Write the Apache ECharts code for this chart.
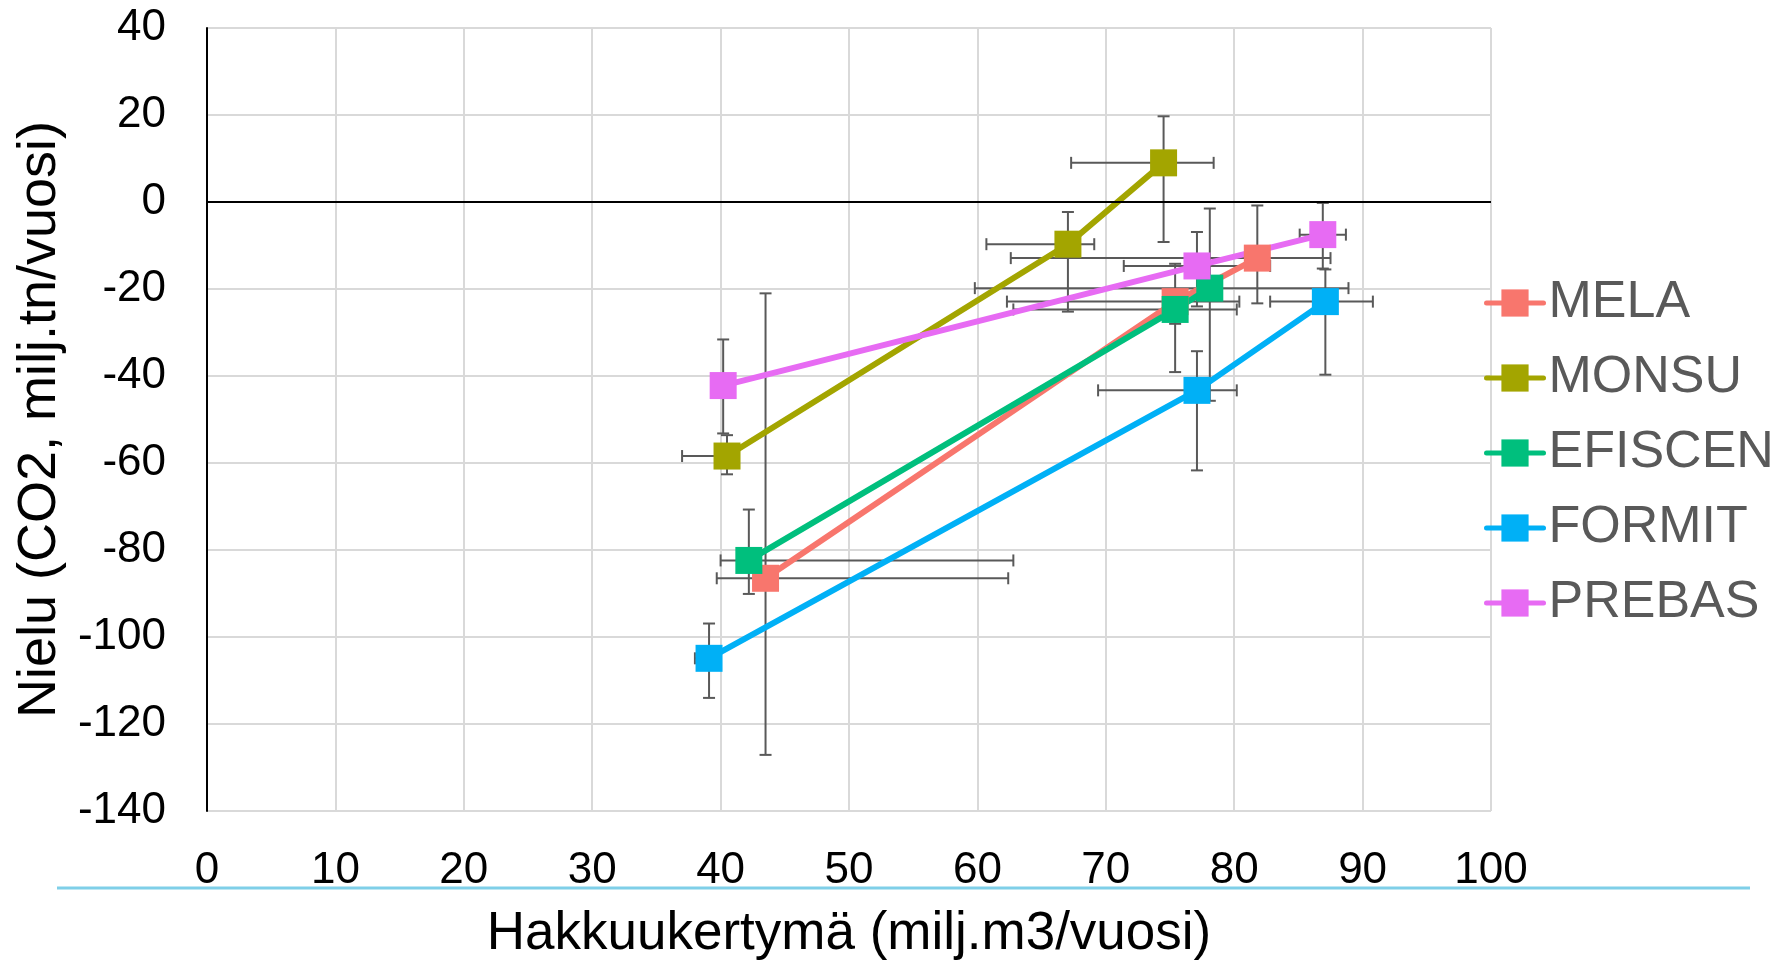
<!DOCTYPE html>
<html>
<head>
<meta charset="utf-8">
<script src="https://cdn.jsdelivr.net/npm/echarts@6/dist/echarts.min.js"></script>
<style>
html,body{margin:0;padding:0;background:#fff;}
#chart{width:1787px;height:966px;}
</style>
</head>
<body>
<div id="chart"></div>
<script>
// ---- Data ----
const seriesNames = ['MELA', 'MONSU', 'EFISCEN', 'FORMIT', 'PREBAS'];
const seriesColors = ['#F8766D', '#A3A500', '#00BF7D', '#00B0F6', '#E76BF3'];

// Hakkuukertymä (x) and Nielu (y) for each model, with error bar ends
const melaX = [43.5, 75.4, 81.8];
const melaY = [-86.5, -22.9, -12.9];
const melaXLow = [39.7, 62.3, 62.6];
const melaXHigh = [62.4, 80.4, 87.5];
const melaYLow = [-127.1, -39.1, -23.3];
const melaYHigh = [-21.0, -14.2, -0.8];

const monsuX = [40.5, 67.05, 74.5];
const monsuY = [-58.4, -9.7, 9.0];
const monsuXLow = [37.0, 60.7, 67.3];
const monsuXHigh = [41.0, 69.1, 78.4];
const monsuYLow = [-62.6, -25.2, -9.2];
const monsuYHigh = [-53.6, -2.3, 19.7];

const efiscenX = [42.2, 75.4, 78.1];
const efiscenY = [-82.4, -24.7, -19.8];
const efiscenXLow = [40.0, 62.8, 59.8];
const efiscenXHigh = [62.8, 80.2, 88.9];
const efiscenYLow = [-90.1, -28.0, -45.7];
const efiscenYHigh = [-70.7, -21.4, -1.5];

const formitX = [39.1, 77.1, 87.1];
const formitY = [-104.9, -43.3, -22.9];
const formitXLow = [38.0, 69.4, 82.8];
const formitXHigh = [40.0, 80.2, 90.8];
const formitYLow = [-114.0, -61.7, -39.7];
const formitYHigh = [-96.9, -34.3, -15.5];

const prebasX = [40.2, 77.1, 86.9];
const prebasY = [-42.2, -14.7, -7.5];
const prebasXLow = [40.0, 71.4, 85.1];
const prebasXHigh = [40.4, 82.8, 88.7];
const prebasYLow = [-53.2, -24.0, -15.3];
const prebasYHigh = [-31.6, -6.9, -0.2];

const xTicks = [0, 10, 20, 30, 40, 50, 60, 70, 80, 90, 100];
const yTicks = [-140, -120, -100, -80, -60, -40, -20, 0, 20, 40];

const xTitle = 'Hakkuukertymä (milj.m3/vuosi)';
const yTitle = 'Nielu (CO2, milj.tn/vuosi)';

// ---- Build ----
const allData = [
  [melaX, melaY, melaXLow, melaXHigh, melaYLow, melaYHigh],
  [monsuX, monsuY, monsuXLow, monsuXHigh, monsuYLow, monsuYHigh],
  [efiscenX, efiscenY, efiscenXLow, efiscenXHigh, efiscenYLow, efiscenYHigh],
  [formitX, formitY, formitXLow, formitXHigh, formitYLow, formitYHigh],
  [prebasX, prebasY, prebasXLow, prebasXHigh, prebasYLow, prebasYHigh]
];

const FONT = '"Liberation Sans", Arial, sans-serif';
const errRows = [];
allData.forEach(d => {
  for (let i = 0; i < d[0].length; i++) {
    errRows.push([d[0][i], d[1][i], d[2][i], d[3][i], d[4][i], d[5][i]]);
  }
});

const CAP = 6;
function renderErr(params, api) {
  const x = api.value(0), y = api.value(1);
  const xl = api.value(2), xh = api.value(3), yl = api.value(4), yh = api.value(5);
  const style = { stroke: '#595959', lineWidth: 2 };
  const children = [];
  const pL = api.coord([xl, y]), pR = api.coord([xh, y]);
  if (Math.abs(pR[0] - pL[0]) > 1) {
    children.push({ type: 'line', shape: { x1: pL[0], y1: pL[1], x2: pR[0], y2: pR[1] }, style });
    children.push({ type: 'line', shape: { x1: pL[0], y1: pL[1] - CAP, x2: pL[0], y2: pL[1] + CAP }, style });
    children.push({ type: 'line', shape: { x1: pR[0], y1: pR[1] - CAP, x2: pR[0], y2: pR[1] + CAP }, style });
  }
  const pB = api.coord([x, yl]), pT = api.coord([x, yh]);
  if (Math.abs(pB[1] - pT[1]) > 1) {
    children.push({ type: 'line', shape: { x1: pB[0], y1: pB[1], x2: pT[0], y2: pT[1] }, style });
    children.push({ type: 'line', shape: { x1: pB[0] - CAP, y1: pB[1], x2: pB[0] + CAP, y2: pB[1] }, style });
    children.push({ type: 'line', shape: { x1: pT[0] - CAP, y1: pT[1], x2: pT[0] + CAP, y2: pT[1] }, style });
  }
  return { type: 'group', children };
}

const series = [{
  type: 'custom',
  name: 'errorbars',
  renderItem: renderErr,
  data: errRows,
  z: 1,
  silent: true,
  encode: { x: 0, y: 1 },
  markLine: {
    silent: true,
    symbol: ['none', 'none'],
    label: { show: false },
    lineStyle: { color: '#000', width: 2, type: 'solid' },
    data: [{ yAxis: 0 }]
  }
}];

seriesNames.forEach((name, k) => {
  const d = allData[k];
  series.push({
    type: 'line',
    name: name,
    data: d[0].map((x, i) => [x, d[1][i]]),
    symbol: 'rect',
    symbolSize: 27,
    showSymbol: true,
    z: 3,
    itemStyle: { color: seriesColors[k] },
    lineStyle: { color: seriesColors[k], width: 6 },
    emphasis: { disabled: true }
  });
});

const chart = echarts.init(document.getElementById('chart'), null, { renderer: 'canvas' });
chart.setOption({
  animation: false,
  backgroundColor: '#fff',
  textStyle: { fontFamily: FONT },
  grid: { left: 207, right: 296, top: 28, bottom: 152, containLabel: false },
  xAxis: {
    type: 'value',
    min: xTicks[0], max: xTicks[xTicks.length - 1], interval: 10,
    name: xTitle, nameLocation: 'middle', nameGap: 97,
    nameTextStyle: { fontSize: 53, color: '#000', fontFamily: FONT },
    axisLine: { show: false },
    axisTick: { show: false },
    axisLabel: { fontSize: 44, color: '#000', margin: 38, fontFamily: FONT },
    splitLine: { show: true, lineStyle: { color: '#d9d9d9', width: 2 } }
  },
  yAxis: {
    type: 'value',
    min: yTicks[0], max: yTicks[yTicks.length - 1], interval: 20,
    name: yTitle, nameLocation: 'middle', nameGap: 124,
    nameTextStyle: { fontSize: 54, color: '#000', fontFamily: FONT },
    axisLine: { show: true, onZero: false, lineStyle: { color: '#000', width: 2 } },
    axisTick: { show: false },
    axisLabel: { fontSize: 44, color: '#000', margin: 41, fontFamily: FONT },
    splitLine: { show: true, lineStyle: { color: '#d9d9d9', width: 2 } }
  },
  legend: {
    data: seriesNames,
    orient: 'vertical',
    left: 1479,
    top: 272,
    itemWidth: 57,
    itemHeight: 34,
    itemGap: 23,
    lineStyle: { width: 5, cap: 'round' },
    textStyle: { fontSize: 52, color: '#595959', lineHeight: 52, fontFamily: FONT },
    selectedMode: false
  },
  graphic: [{
    type: 'line',
    shape: { x1: 57, y1: 888, x2: 1750, y2: 888 },
    style: { stroke: '#7fcfe8', lineWidth: 3 },
    silent: true
  }],
  series: series
});
</script>
</body>
</html>
